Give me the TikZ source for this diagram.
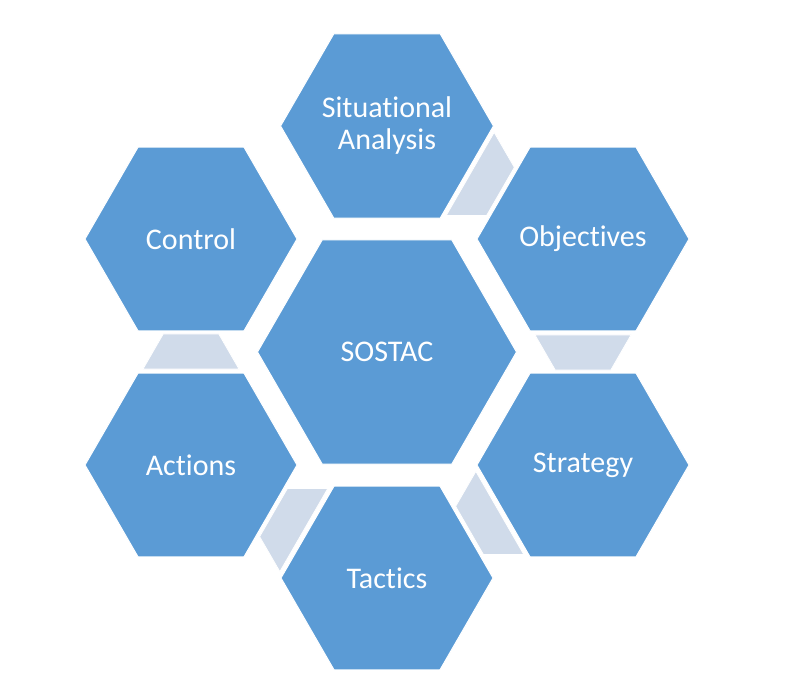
\documentclass[tikz,border=0pt]{standalone}
\usepackage{fontspec}
\setmainfont{Carlito}[Ligatures={NoCommon}]
\usetikzlibrary{shapes.geometric,calc}
\definecolor{hexblue}{HTML}{5B9BD5}
\definecolor{linkgrey}{HTML}{D0DBEA}
\begin{document}
\begin{tikzpicture}[x=1pt,y=1pt,
  hexbase/.style={regular polygon, regular polygon sides=6, inner sep=0pt,
    fill=hexblue, draw=white, line width=1pt, text=white, align=center,
    font=\fontsize{30}{32}\selectfont},
  outerhex/.style={hexbase, minimum size=212pt},
  centerhex/.style={hexbase, minimum size=259pt},
  linkshape/.style={fill=linkgrey, draw=white, line width=0.8pt}
]
\useasboundingbox (0,0) rectangle (800,-692);
\fill[white] (0,0) rectangle (800,-692);

\node[centerhex] (core) at (387,-352) {SOSTAC};
\node[outerhex] (sa)  at (387,-126) {Situational\\Analysis};
\node[outerhex] (obj) at (583,-239) {Objectives};
\node[outerhex] (str) at (583,-465) {Strategy};
\node[outerhex] (tac) at (387,-578) {Tactics};
\node[outerhex] (act) at (191,-465) {Actions};
\node[outerhex] (con) at (191,-239) {Control};

\foreach \a/\b in {sa/obj, obj/str, str/tac, tac/act, act/con}{
  \fill[linkshape]
    ($(\a.center)!96pt!(\b.center)!48pt!90:(\b.center)$) --
    ($(\a.center)!131pt!(\b.center)!27.8pt!90:(\b.center)$) --
    ($(\a.center)!131pt!(\b.center)!27.8pt!-90:(\b.center)$) --
    ($(\a.center)!96pt!(\b.center)!48pt!-90:(\b.center)$) -- cycle;
}
\end{tikzpicture}
\end{document}
